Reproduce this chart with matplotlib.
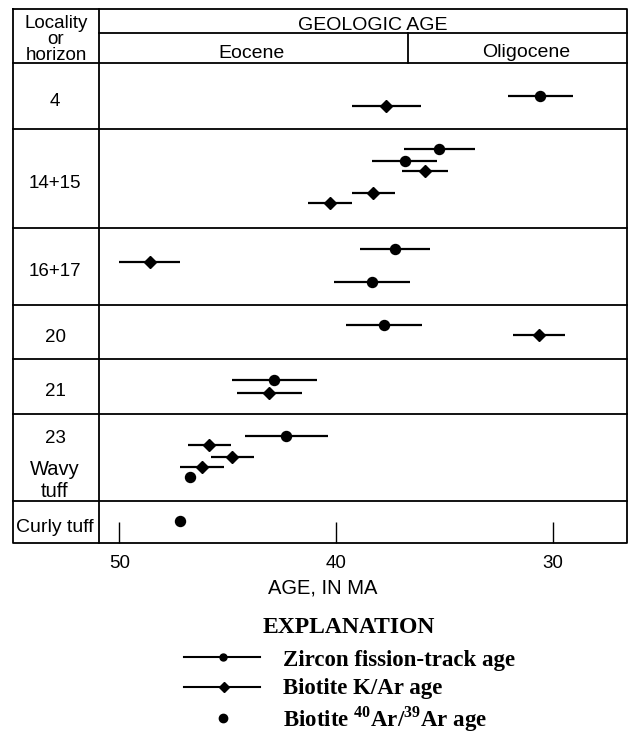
import matplotlib.pyplot as plt

SANS = ['Liberation Sans', 'DejaVu Sans']
NARROW = ['Liberation Sans Narrow', 'Liberation Sans', 'DejaVu Sans']
SERIF = ['Liberation Serif', 'DejaVu Serif']

plt.rcParams['mathtext.fontset'] = 'custom'
plt.rcParams['mathtext.bf'] = 'Liberation Serif:bold'
plt.rcParams['mathtext.rm'] = 'Liberation Serif:bold'

# строки таблицы сверху вниз (вертикальные "слоты" в условных единицах)
localities = ['4', '14+15', '16+17', '20', '21', '23|Wavy|tuff', 'Curly tuff']
row_edges = [0, 66, 165, 241.5, 295.5, 350.5, 437.5, 479.7]

epoch_names = ['Eocene', 'Oligocene']
epoch_boundary = 36.7

# Zircon fission-track, Ma
zircon_age = [30.6, 35.25, 36.85, 37.3, 38.35, 37.8, 42.85, 42.3]
zircon_err = [1.5, 1.65, 1.5, 1.6, 1.75, 1.75, 1.95, 1.9]
zircon_y = [33, 86, 98, 186, 219, 262, 317, 373]

# Biotite K/Ar, Ma
kar_age = [37.7, 35.9, 38.3, 40.3, 48.6, 30.65, 43.1, 45.85, 44.8, 46.2]
kar_err = [1.6, 1.05, 1.0, 1.0, 1.4, 1.2, 1.5, 1.0, 1.0, 1.0]
kar_y = [43, 108, 130, 140, 199, 272, 330, 382, 394, 404]

# Biotite 40Ar/39Ar, Ma
arar_age = [46.75, 47.2]
arar_y = [414, 458]

age_ticks = [50, 40, 30]

# рамка таблицы в пикселях
W, H = 637, 737
L, C, R = 13, 99, 627
TOP, H1, H2, BOT = 9.3, 33, 63, 542.7
LW = 1.3

fig = plt.figure(figsize=(W / 100, H / 100), dpi=100)
lay = fig.add_axes([0, 0, 1, 1])
lay.set_xlim(0, W)
lay.set_ylim(H, 0)
lay.axis('off')

ax = fig.add_axes([C / W, 1 - BOT / H, (R - C) / W, (BOT - H2) / H])
ax.patch.set_alpha(0)
ax.set_xlim(50.94, 26.6)
ax.set_ylim(row_edges[-1], row_edges[0])
for s in ax.spines.values():
    s.set_visible(False)

# внешняя рамка и шапка
lay.plot([L, R, R, L, L], [TOP, TOP, BOT, BOT, TOP], color='black', lw=LW)
lay.plot([C, C], [TOP, BOT], color='black', lw=LW)
lay.plot([C, R], [H1, H1], color='black', lw=LW)
lay.plot([L, R], [H2, H2], color='black', lw=LW)
ax.plot([epoch_boundary, epoch_boundary], [1, 1 + (H2 - H1) / (BOT - H2)],
        transform=ax.get_xaxis_transform(), clip_on=False, color='black', lw=LW)

# линии между строками
for e in row_edges[1:-1]:
    ax.axhline(e, xmin=(L - C) / (R - C), xmax=1, clip_on=False, color='black', lw=LW)

lay.text(373, 30, 'GEOLOGIC AGE', ha='center', va='baseline', fontsize=14, family=SANS)
lay.text(251, 58, epoch_names[0], ha='center', va='baseline', fontsize=14, family=SANS)
lay.text(526, 57, epoch_names[1], ha='center', va='baseline', fontsize=14, family=SANS)

lay.text(56, 14.5, 'Locality\nor\nhorizon', ha='center', va='top', fontsize=13.5,
         family=SANS, linespacing=0.95)

# подписи строк
xcol = (55 - C) / (R - C)
tr = ax.get_yaxis_transform()
for name, a, b in zip(localities, row_edges[:-1], row_edges[1:]):
    mid = (a + b) / 2
    if name.startswith('23'):
        parts = name.split('|')
        ax.text(xcol, mid - 14, parts[0], transform=tr, ha='center', va='baseline',
                fontsize=13.5, family=NARROW, clip_on=False)
        ax.text(xcol, mid + 18, parts[1], transform=tr, ha='center', va='baseline',
                fontsize=14.5, family=SANS, clip_on=False)
        ax.text(xcol, mid + 40, parts[2], transform=tr, ha='center', va='baseline',
                fontsize=14.5, family=SANS, clip_on=False)
    elif name[0].isdigit():
        ax.text(xcol, mid + 10, name, transform=tr, ha='center', va='baseline',
                fontsize=13.5, family=NARROW, clip_on=False)
    else:
        ax.text(xcol, mid + 10, name, transform=tr, ha='center', va='baseline',
                fontsize=14, family=SANS, clip_on=False)

# данные
ax.errorbar(zircon_age, zircon_y, xerr=zircon_err, fmt='o', ms=7.2, color='black',
            ecolor='black', elinewidth=1.6, capsize=0, clip_on=False)
ax.errorbar(kar_age, kar_y, xerr=kar_err, fmt='D', ms=6.6, color='black',
            ecolor='black', elinewidth=1.6, capsize=0, clip_on=False)
ax.plot(arar_age, arar_y, 'o', ms=7.2, color='black', clip_on=False)

# ось X
ax.set_xticks(age_ticks)
ax.set_xticklabels([str(t) for t in age_ticks])
ax.set_yticks([])
ax.tick_params(axis='x', direction='in', length=15, width=1, pad=9, labelsize=13.5)
for lbl in ax.get_xticklabels():
    lbl.set_family(NARROW)
lay.text(323, 593.3, 'AGE, IN MA', ha='center', va='baseline', fontsize=14.5, family=SANS)

# легенда
lay.text(349, 633.3, 'EXPLANATION', ha='center', va='baseline', fontsize=17,
         weight='bold', family=SERIF)
lay.plot([184, 260], [656.7, 656.7], color='black', lw=1.5)
lay.plot([223], [656.7], 'o', ms=5, color='black')
lay.text(283, 666, 'Zircon fission-track age', va='baseline', fontsize=16.5,
         weight='bold', family=SERIF)
lay.plot([184, 260], [686.7, 686.7], color='black', lw=1.5)
lay.plot([224], [686.7], 'D', ms=5, color='black')
lay.text(283, 694, 'Biotite K/Ar age', va='baseline', fontsize=16.5,
         weight='bold', family=SERIF)
lay.plot([223], [717.7], 'o', ms=6, color='black')
lay.text(283, 726.7, r'Biotite $^{\mathbf{40}}$Ar/$^{\mathbf{39}}$Ar age', va='baseline',
         fontsize=16.5, weight='bold', family=SERIF)

fig.savefig('out.png', dpi=100)
